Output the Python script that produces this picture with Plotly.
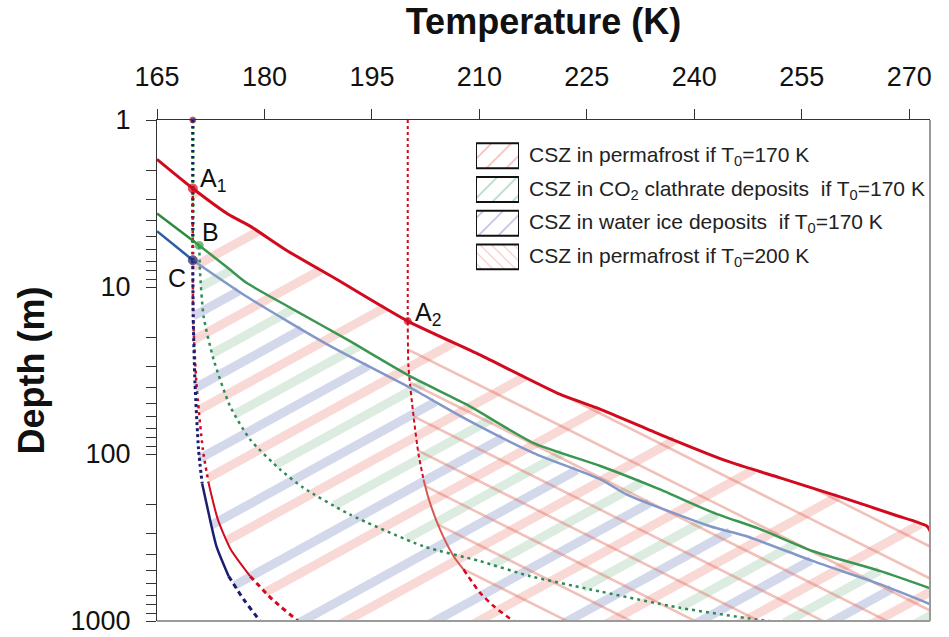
import math
import plotly.graph_objects as go

# ---------------- data ----------------
# upper limits of the clathrate stability zones (solid curves)
RED_T = [165, 170, 175, 178, 183, 190, 200, 210, 221.3, 227, 235, 244.5, 252, 260.8, 268, 272.5, 273.0]
RED_D = [1.72, 2.57, 3.68, 4.32, 6.0, 8.96, 16.0, 25.4, 44.0, 54.2, 75.7, 110, 139, 183, 232, 271, 295]

GREEN_T = [165, 170.9, 175, 177.5, 184, 191.5, 200.3, 208.2, 217.5, 226.9, 235.2, 242.7, 249, 256.6, 266, 273.4]
GREEN_D = [3.63, 5.64, 7.75, 9.44, 13.6, 20.6, 34.2, 50.5, 85.7, 118, 163, 225, 280, 382, 503, 648]

BLUE_T = [165, 170, 177.5, 189.2, 200.8, 208.2, 217.5, 226.9, 230.6, 242.2, 247.3, 256.6, 266, 273.6]
BLUE_D = [4.63, 6.91, 11.4, 22.6, 41.1, 62.1, 98.4, 142, 175, 271, 311, 438, 604, 815]

# lower limits (dotted / dashed curves)
RED1_LOW_T = [170, 170.05, 170.5, 171.4, 172.2, 173.5, 175.3, 178, 181.1, 185, 186]
RED1_LOW_D = [2.57, 15, 37.5, 94, 149, 247, 373, 539, 743, 1025, 1100]

BLUE_LOW_T = [170, 170.05, 170.3, 170.8, 171.3, 172.4, 173.3, 175.0, 177.1, 179.4, 180.3]
BLUE_LOW_D = [6.91, 15, 37.5, 94, 150, 247, 357, 539, 743, 1000, 1100]

GREEN_LOW_T = [170.9, 171.0, 171.5, 172.9, 175.2, 178, 182.2, 185.4, 191.9, 202.2, 210.1, 217.1, 225.5, 238, 248.7, 257]
GREEN_LOW_D = [5.64, 8, 15, 27.2, 51.7, 81.9, 124, 159, 230, 357, 438, 539, 647, 834, 979, 1080]

RED2_LOW_T = [200, 200.1, 200.8, 201.5, 202.2, 203, 204.5, 206.4, 207.8, 210.1, 212, 214, 216.1]
RED2_LOW_D = [16.0, 30, 59, 100, 142, 190, 283, 409, 492, 678, 815, 950, 1080]

T0_LOW, T0_HIGH = 170, 200
SURFACE_DEPTH = 1

X_TICKS = [165, 180, 195, 210, 225, 240, 255, 270]
Y_TICKS = [1, 10, 100, 1000]
Y_MINOR = [m * 10 ** e for e in range(3) for m in range(2, 10)]

LEGEND_TEXT = [
    "CSZ in permafrost if T<sub>0</sub>=170 K",
    "CSZ in CO<sub>2</sub> clathrate deposits  if T<sub>0</sub>=170 K",
    "CSZ in water ice deposits  if T<sub>0</sub>=170 K",
    "CSZ in permafrost if T<sub>0</sub>=200 K",
]

X_RANGE = [165, 272.9]
D_CLOSE = 1100  # closing depth of the hatched zones (below the axis bottom)

# ---------------- styles ----------------
W, H = 949, 637
MARGIN = dict(l=157, r=19, t=120, b=16)
PLOT_W = W - MARGIN["l"] - MARGIN["r"]
PLOT_H = H - MARGIN["t"] - MARGIN["b"]
RED = "#d20a1e"
GREEN = "#3a9650"
GREEN_DARK = "#2c8a3c"
BLUE_DARK = "#2b5ca6"
BLUE_LIGHT = "#8397c8"
NAVY = "#1c1e6e"
RED2 = "#d65a52"
FONT = "Liberation Sans, Arial, sans-serif"

fig = go.Figure()


def zone(top_t, top_d, low_t, low_d):
    xs = list(top_t) + [top_t[-1]] + list(low_t)[::-1]
    ys = list(top_d) + [D_CLOSE] + list(low_d)[::-1]
    return xs, ys


def hatch(poly_t, poly_d, slope, spacing, phase):
    """Parallel hatch segments (straight in screen space) clipped to a zone."""
    kx = PLOT_W / (X_RANGE[1] - X_RANGE[0])
    ky = PLOT_H / 3.0
    pts = [((t - X_RANGE[0]) * kx, math.log10(d) * ky) for t, d in zip(poly_t, poly_d)]
    vals = [y - slope * x for x, y in pts]
    c = phase + math.floor((min(vals) - phase) / spacing) * spacing
    xs, ys = [], []
    n = len(pts)
    while c <= max(vals):
        hits = []
        for i in range(n):
            (x1, y1), (x2, y2) = pts[i], pts[(i + 1) % n]
            f1 = y1 - slope * x1 - c
            f2 = y2 - slope * x2 - c
            if (f1 > 0) != (f2 > 0):
                t = f1 / (f1 - f2)
                hits.append(x1 + t * (x2 - x1))
        hits.sort()
        for a, b in zip(hits[0::2], hits[1::2]):
            for xx in (a, b):
                xs.append(xx / kx + X_RANGE[0])
                ys.append(10 ** ((slope * xx + c) / ky))
            xs.append(None)
            ys.append(None)
        c += spacing
    return xs, ys


def add_hatch(zone_xy, slope, spacing, phase, color, width):
    hx, hy = hatch(zone_xy[0], zone_xy[1], slope, spacing, phase)
    fig.add_trace(go.Scatter(x=hx, y=hy, mode="lines",
                             line=dict(color=color, width=width),
                             hoverinfo="skip", showlegend=False))


# hatched zones
add_hatch(zone(RED_T[1:], RED_D[1:], RED1_LOW_T, RED1_LOW_D), -0.55, 73, 21,
          "rgba(232,120,105,0.28)", 9)
add_hatch(zone(GREEN_T[1:], GREEN_D[1:], GREEN_LOW_T, GREEN_LOW_D), -0.55, 73, 45,
          "rgba(100,170,120,0.22)", 9)
add_hatch(zone(BLUE_T[1:], BLUE_D[1:], BLUE_LOW_T, BLUE_LOW_D), -0.55, 73, 70,
          "rgba(110,130,190,0.30)", 9)
add_hatch(zone(RED_T[6:], RED_D[6:], RED2_LOW_T, RED2_LOW_D), 0.5, 32, 8,
          "rgba(225,115,100,0.45)", 2.5)


def line(x, y, color, width, dash="solid", smooth=False):
    ln = dict(color=color, width=width, dash=dash)
    if smooth:
        ln.update(shape="spline", smoothing=0.6)
    fig.add_trace(go.Scatter(x=x, y=y, mode="lines", line=ln,
                             hoverinfo="skip", showlegend=False))


# surface temperature profiles
line([T0_HIGH, T0_HIGH], [SURFACE_DEPTH, RED_D[6]], RED, 2, "dot")
line([T0_LOW, T0_LOW], [SURFACE_DEPTH, GREEN_D[1]], GREEN_DARK, 3, "dot")
line([T0_LOW, T0_LOW], [SURFACE_DEPTH, BLUE_D[1]], NAVY, 3, "2px,4px")

# lower limits
line(GREEN_LOW_T, GREEN_LOW_D, "#2e8b57", 2.5, "3px,4px", True)
line(RED2_LOW_T[:5], RED2_LOW_D[:5], RED, 2, "4px,3px", True)
line(RED2_LOW_T[4:9], RED2_LOW_D[4:9], RED2, 2, "solid", True)
line(RED2_LOW_T[8:], RED2_LOW_D[8:], RED, 2.5, "5px,4px", True)
line(RED1_LOW_T[:5], RED1_LOW_D[:5], RED, 2.5, "3px,4px", True)
line(RED1_LOW_T[4:8], RED1_LOW_D[4:8], RED, 2, "solid", True)
line(RED1_LOW_T[7:], RED1_LOW_D[7:], RED, 3, "5px,4px", True)
line(BLUE_LOW_T[:5], BLUE_LOW_D[:5], NAVY, 3, "3px,3px", True)
line(BLUE_LOW_T[4:8], BLUE_LOW_D[4:8], NAVY, 2.5, "solid", True)
line(BLUE_LOW_T[7:], BLUE_LOW_D[7:], NAVY, 3, "5px,4px", True)

# upper limits
line(BLUE_T[:2], BLUE_D[:2], BLUE_DARK, 2.5)
line(BLUE_T[1:], BLUE_D[1:], BLUE_LIGHT, 2.5, "solid", True)
line(GREEN_T[:2], GREEN_D[:2], GREEN_DARK, 2.5)
line(GREEN_T[1:], GREEN_D[1:], GREEN, 2.5, "solid", True)
line(RED_T, RED_D, RED, 3, "solid", True)

# points A1, B, C, A2 and the surface point
fig.add_trace(go.Scatter(
    x=[RED_T[1], GREEN_T[1], BLUE_T[1], RED_T[6], T0_LOW],
    y=[RED_D[1], GREEN_D[1], BLUE_D[1], RED_D[6], SURFACE_DEPTH],
    mode="markers", cliponaxis=False,
    marker=dict(size=[9, 8, 9, 7, 6], color=[RED, "#3aa048", NAVY, RED, NAVY],
                line=dict(color=[RED, "#3aa048", NAVY, RED, RED], width=1)),
    hoverinfo="skip", showlegend=False))

ann_font = dict(family=FONT, size=25, color="#111")
fig.add_annotation(x=RED_T[1], y=0.41, yref="y", text="A<sub>1</sub>", showarrow=False,
                   xanchor="left", yanchor="middle", xshift=5, yshift=8, font=ann_font)
fig.add_annotation(x=GREEN_T[1], y=0.751, text="B", showarrow=False,
                   xanchor="left", yanchor="middle", xshift=1, yshift=13, font=ann_font)
fig.add_annotation(x=BLUE_T[1], y=0.8395, text="C", showarrow=False,
                   xanchor="right", yanchor="middle", xshift=-5, yshift=-18, font=ann_font)
fig.add_annotation(x=RED_T[6], y=1.204, text="A<sub>2</sub>", showarrow=False,
                   xanchor="left", yanchor="middle", xshift=5, yshift=7, font=ann_font)

# ---------------- manual legend (hatched boxes) ----------------
LEG_PATTERNS = [
    dict(shape="/", size=14, solidity=0.11, fgcolor="rgb(232,110,100)"),
    dict(shape="/", size=14, solidity=0.11, fgcolor="rgb(90,170,110)"),
    dict(shape="/", size=14, solidity=0.11, fgcolor="rgb(130,105,200)"),
    dict(shape="\\", size=8, solidity=0.13, fgcolor="rgb(235,130,120)"),
]
for i, (txt, pat) in enumerate(zip(LEGEND_TEXT, LEG_PATTERNS)):
    row = len(LEGEND_TEXT) - 1 - i
    h = 0.37
    fig.add_trace(go.Scatter(
        x=[0, 1, 1, 0, 0], y=[row - h, row - h, row + h, row + h, row - h],
        xaxis="x2", yaxis="y2", mode="lines", fill="toself", fillcolor="white",
        fillpattern=dict(bgcolor="white", **pat),
        line=dict(color="#111", width=2), hoverinfo="skip", showlegend=False))
    fig.add_annotation(x=0.4787, xref="paper", y=row, yref="y2", text=txt,
                       showarrow=False, xanchor="left", yanchor="middle",
                       font=dict(family=FONT, size=21, color="#222"))

# ---------------- layout ----------------
fig.update_layout(
    width=W, height=H,
    margin=MARGIN,
    paper_bgcolor="white", plot_bgcolor="white",
    showlegend=False,
    xaxis=dict(side="top", range=X_RANGE, tickvals=X_TICKS, ticks="outside",
               ticklen=10, tickcolor="#333", tickwidth=1,
               showline=True, linecolor="#333", linewidth=1,
               showgrid=False, zeroline=False, automargin=False,
               tickfont=dict(family=FONT, size=27, color="#111"),
               ticklabelstandoff=12,
               title=dict(text="<b>Temperature (K)</b>", standoff=16,
                          font=dict(family=FONT, size=36, color="#111"))),
    yaxis=dict(type="log", range=[3, 0], tickvals=Y_TICKS, ticks="outside",
               ticklen=10, tickcolor="#333", tickwidth=1,
               showline=True, linecolor="#333", linewidth=1,
               showgrid=False, zeroline=False, automargin=False,
               minor=dict(tickvals=Y_MINOR, ticks="outside", ticklen=10,
                          tickcolor="#333", tickwidth=1, showgrid=False),
               tickfont=dict(family=FONT, size=27, color="#111"),
               ticklabelstandoff=10,
               title=dict(text="<b>Depth (m)</b>", standoff=14,
                          font=dict(family=FONT, size=36, color="#111"))),
    xaxis2=dict(domain=[0.4127, 0.4683], range=[0, 1], anchor="y2", visible=False,
                fixedrange=True),
    yaxis2=dict(domain=[0.6932, 0.9621], range=[-0.5, 3.5], anchor="x2", visible=False,
                fixedrange=True),
    shapes=[
        dict(type="line", xref="x domain", yref="y domain", x0=1, x1=1, y0=0, y1=1,
             line=dict(color="#9a9a9a", width=2)),
        dict(type="line", xref="x domain", yref="y domain", x0=0, x1=1, y0=0, y1=0,
             line=dict(color="#9a9a9a", width=2)),
    ],
)

fig.write_html("out.html", config={"displayModeBar": False},
               post_script="document.body.style.margin='0px';")
